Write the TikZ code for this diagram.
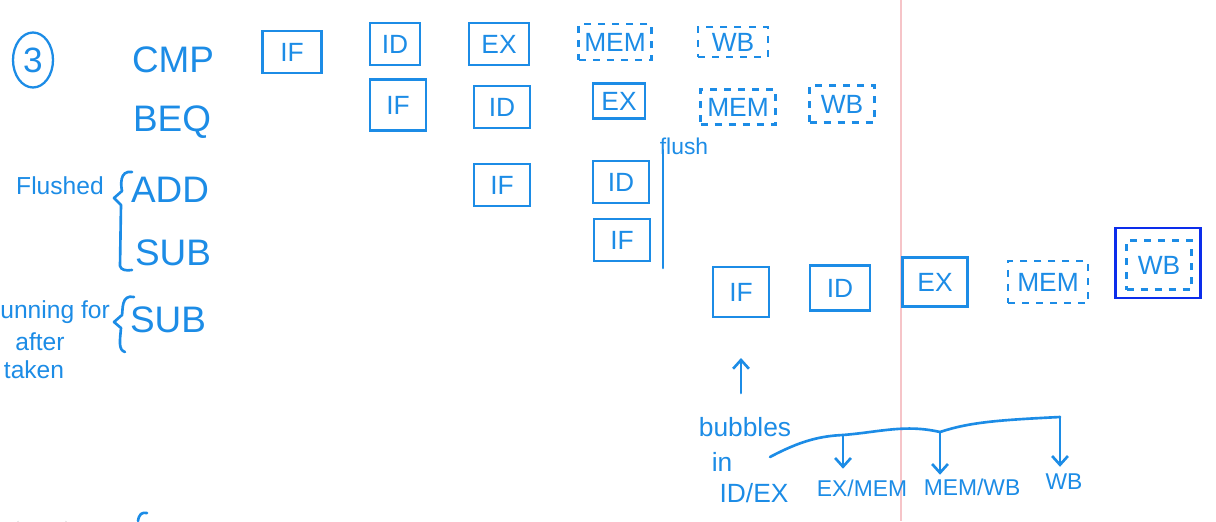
\documentclass[tikz,border=0pt]{standalone}
\usepackage{fontspec}
\setmainfont{Liberation Sans}
\usetikzlibrary{arrows.meta,shapes.geometric}
\definecolor{ink}{RGB}{28,140,230}
\definecolor{deepink}{RGB}{12,45,235}
\definecolor{marginred}{RGB}{246,196,200}
\definecolor{punch}{RGB}{232,232,232}

\begin{document}
\begin{tikzpicture}[x=0.02cm,y=-0.02cm,
  every node/.style={text=ink, inner sep=0pt},
  stage/.style={draw=ink, line width=1.5pt, minimum width=1.12cm, minimum height=0.84cm,
                font=\fontsize{15}{15}\selectfont},
  spec/.style={stage, dash pattern=on 4pt off 4pt},
  instr/.style={font=\fontsize{21}{21}\selectfont},
  note/.style={font=\fontsize{14}{15}\selectfont},
  label/.style={font=\fontsize{13}{13}\selectfont},
  pen/.style={draw=ink, line width=1.5pt, line cap=round, line join=round},
  tip/.style={-{Straight Barb[length=5pt,width=9pt]}}
]
\useasboundingbox (0,0) rectangle (1216,521);
\fill[white] (0,0) rectangle (1216,521);

% notebook margin rule and punch hole
\draw[marginred, line width=0.8pt] (901,0) -- (901,521);
\draw[punch, line width=1pt] (18,521) arc[start angle=180, end angle=0, x radius=24, y radius=26];
\draw[pen] (138,521) .. controls (139,514) and (142,512) .. (147,513);

% problem number
\node[draw=ink, line width=1.3pt, ellipse, minimum width=0.8cm, minimum height=1.1cm,
      font=\fontsize{20}{20}\selectfont] (num) at (33,60) {3};

% instruction column
\node[instr] (cmp) at (173,60) {CMP};
\node[instr] (beq) at (172,122) {BEQ};
\node[instr] (add) at (170,190) {ADD};
\node[instr] (sub) at (173,253) {SUB};
\node[instr] (subb) at (168,320) {SUB};

% side notes and braces
\node[note] (flushed) at (60,186) {Flushed};
\draw[pen] (132,172) .. controls (119,170) and (121,186) .. (122,191) -- (114,198) -- (121,205) -- (120,266) .. controls (121,270) and (126,271) .. (132,270);
\node[note, anchor=west] (why1) at (0,312) {unning for};
\node[note] (why2) at (40,342) {after};
\node[note] (why3) at (34,370) {taken};
\draw[pen] (134,297) .. controls (121,294) and (123,310) .. (122,315) -- (114,322) -- (121,328) .. controls (120,340) and (118,350) .. (125,352);

% CMP
\node[stage, minimum width=1.18cm] (if1) at (292,52) {IF};
\node[stage, minimum width=1.0cm] (id1) at (395,44) {ID};
\node[stage, minimum width=1.2cm] (ex1) at (499,44) {EX};
\node[spec, minimum width=1.45cm, minimum height=0.72cm] (mem1) at (615,42) {MEM};
\node[spec, minimum width=1.4cm, minimum height=0.6cm] (wb1) at (733,42) {WB};

% BEQ
\node[stage, minimum height=1.02cm] (if2) at (398,105) {IF};
\node[stage] (id2) at (502,107) {ID};
\node[stage, minimum width=1.04cm, minimum height=0.7cm] (ex2) at (619,101) {EX};
\node[spec, minimum width=1.5cm, minimum height=0.7cm] (mem2) at (738,107) {MEM};
\node[spec, minimum width=1.3cm, minimum height=0.74cm] (wb2) at (842,104) {WB};

% flushed instructions
\node[stage] (if3) at (502,185) {IF};
\node[stage] (id3) at (621,182) {ID};
\node[stage] (if4) at (622,240) {IF};

% flush marker
\node[note, font=\fontsize{13}{13}\selectfont] (flush) at (684,146) {flush};
\coordinate (flushtop) at (663,150);
\coordinate (flushbot) at (663,268);
\draw[pen] (flushtop) -- (flushbot);

% instruction after the taken branch
\node[stage, minimum height=1.0cm] (if5) at (741,292) {IF};
\node[stage, minimum width=1.2cm, minimum height=0.9cm] (id5) at (840,288) {ID};
\node[stage, minimum width=1.3cm, minimum height=0.98cm] (ex5) at (935,282) {EX};
\node[spec, minimum width=1.6cm] (mem5) at (1048,282) {MEM};
\node[spec, minimum width=1.3cm, minimum height=0.98cm] (wb5) at (1159,265) {WB};
\node[draw=deepink, line width=1.6pt, minimum width=1.7cm, minimum height=1.4cm] (wbmark) at (1158,263) {};

% bubbles
\node[note, font=\fontsize{15}{15}\selectfont] (bub) at (745,427) {bubbles};
\node[note, font=\fontsize{15}{15}\selectfont] (in) at (722,462) {in};
\node[note, font=\fontsize{15}{15}\selectfont] (idex) at (754,493) {ID/EX};
\coordinate (upfoot) at (741,393);
\coordinate (uphead) at (741,358);
\draw[pen, tip] (upfoot) -- (uphead);

\node[label] (exmem) at (862,488) {EX/MEM};
\node[label] (memwb) at (972,487) {MEM/WB};
\node[label] (wbl) at (1064,482) {WB};

\coordinate (start) at (770,457);
\coordinate (j1) at (843,435);
\coordinate (j2) at (940,432);
\coordinate (j3) at (1060,417);
\draw[pen] (start) .. controls (800,441) and (820,436) .. (j1)
  .. controls (880,432) and (905,424) .. (j2)
  .. controls (970,422) and (1000,420) .. (j3);
\draw[pen, tip, shorten >=6pt] (j1) -- (j1 |- exmem.north);
\draw[pen, tip, shorten >=2pt] (j2) -- (j2 |- memwb.north);
\draw[pen, tip, shorten >=4pt] (j3) -- (j3 |- wbl.north);
\end{tikzpicture}
\end{document}
